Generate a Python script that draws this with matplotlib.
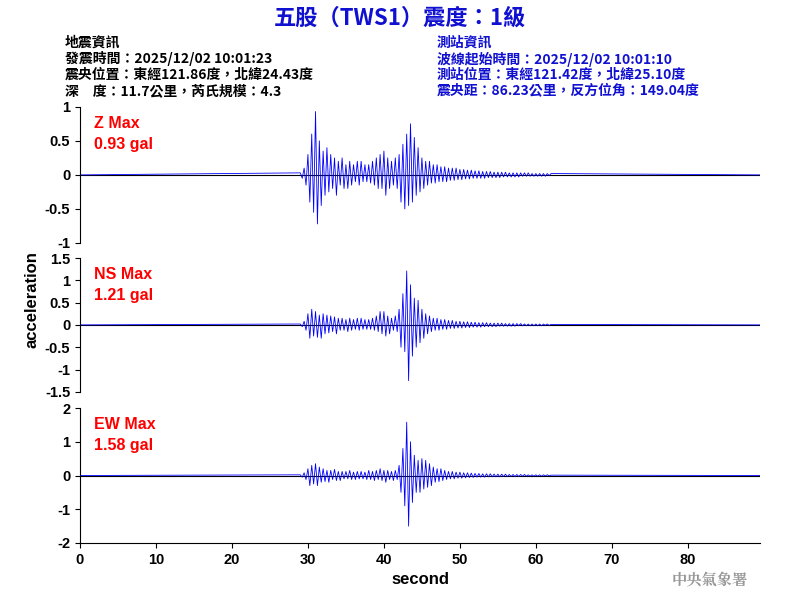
import numpy as np
import matplotlib
matplotlib.use("Agg")
import matplotlib.pyplot as plt

plt.rcParams['font.family'] = ['Noto Sans CJK TC', 'DejaVu Sans']

t_start, t_step = 29.0, 0.25
z_vals = [0.03,-0.05,0.1,-0.15, 0.3,-0.4,0.6,-0.55, 0.93,-0.72,0.5,-0.45,
          0.35,-0.3,0.4,-0.25, 0.3,-0.2,0.25,-0.3, 0.2,-0.15,0.25,-0.2,
          0.15,-0.2,0.2,-0.15, 0.15,-0.1,0.2,-0.15, 0.2,-0.1,0.15,-0.1,
          0.15,-0.12,0.2,-0.15, 0.25,-0.2,0.3,-0.2, 0.35,-0.3,0.25,-0.2,
          0.2,-0.15,0.25,-0.2, 0.3,-0.4,0.45,-0.5, 0.6,-0.45,0.75,-0.4,
          0.55,-0.3,0.4,-0.25, 0.25,-0.2,0.2,-0.15, 0.2,-0.12,0.15,-0.12,
          0.15,-0.1,0.12,-0.1, 0.12,-0.1,0.1,-0.08, 0.1,-0.08,0.1,-0.07,
          0.08,-0.07,0.08,-0.06, 0.07,-0.06,0.07,-0.05,
          0.06,-0.05,0.06,-0.05, 0.05,-0.05,0.05,-0.04, 0.05,-0.04,0.04,-0.04,
          0.04,-0.04,0.04,-0.03, 0.04,-0.03,0.03,-0.03, 0.03,-0.03,0.03,-0.03,
          0.03,-0.02,0.03,-0.02, 0.03,-0.02,0.02,-0.02, 0.02,-0.02,0.02,-0.02,
          0.02,-0.02,0.02,-0.01, 0.02]
ns_vals = [0.02,-0.04,0.08,-0.12, 0.25,-0.3,0.35,-0.25, 0.3,-0.28,0.22,-0.3,
           0.25,-0.2,0.22,-0.18, 0.2,-0.15,0.18,-0.2, 0.15,-0.12,0.15,-0.12,
           0.12,-0.15,0.15,-0.12, 0.12,-0.1,0.15,-0.12, 0.15,-0.1,0.12,-0.1,
           0.12,-0.1,0.15,-0.12, 0.2,-0.15,0.3,-0.2, 0.3,-0.25,0.2,-0.2,
           0.15,-0.12,0.2,-0.15, 0.35,-0.5,0.7,-0.6, 1.21,-1.25,0.9,-0.7,
           0.6,-0.5,0.55,-0.4, 0.35,-0.3,0.25,-0.2, 0.2,-0.15,0.15,-0.12,
           0.15,-0.12,0.12,-0.1, 0.12,-0.1,0.1,-0.08, 0.1,-0.08,0.08,-0.07,
           0.08,-0.07,0.07,-0.06, 0.07,-0.06,0.06,-0.05,
           0.06,-0.05,0.05,-0.05, 0.05,-0.04,0.05,-0.04, 0.04,-0.04,0.04,-0.04,
           0.04,-0.03,0.04,-0.03, 0.03,-0.03,0.03,-0.03, 0.03,-0.03,0.03,-0.02,
           0.03,-0.02,0.02,-0.02, 0.02,-0.02,0.02,-0.02, 0.02,-0.02,0.02,-0.02,
           0.02,-0.01,0.02,-0.01, 0.01]
ew_vals = [0.02,-0.05,0.08,-0.12, 0.2,-0.3,0.3,-0.25, 0.35,-0.3,0.25,-0.2,
           0.2,-0.18,0.15,-0.2, 0.15,-0.12,0.18,-0.15, 0.12,-0.15,0.12,-0.1,
           0.12,-0.1,0.15,-0.12, 0.1,-0.12,0.12,-0.1, 0.12,-0.1,0.1,-0.12,
           0.15,-0.12,0.12,-0.15, 0.15,-0.12,0.2,-0.15, 0.15,-0.2,0.15,-0.12,
           0.12,-0.15,0.15,-0.12, 0.3,-0.5,0.8,-0.9, 1.58,-1.5,1.0,-0.8,
           0.6,-0.5,0.45,-0.5, 0.5,-0.4,0.45,-0.35, 0.35,-0.3,0.25,-0.2,
           0.2,-0.18,0.2,-0.15, 0.15,-0.12,0.12,-0.1, 0.12,-0.1,0.1,-0.08,
           0.1,-0.08,0.08,-0.07, 0.08,-0.06,0.07,-0.06,
           0.06,-0.05,0.06,-0.05, 0.05,-0.05,0.05,-0.04, 0.05,-0.04,0.04,-0.04,
           0.04,-0.04,0.04,-0.03, 0.04,-0.03,0.03,-0.03, 0.03,-0.03,0.03,-0.03,
           0.03,-0.02,0.03,-0.02, 0.02,-0.02,0.02,-0.02, 0.02,-0.02,0.02,-0.02,
           0.02,-0.01,0.02,-0.01, 0.01]

channels = ["Z", "NS", "EW"]
maxima = ["0.93 gal", "1.21 gal", "1.58 gal"]
ylims = [1, 1.5, 2]
yticks = [[-1, -0.5, 0, 0.5, 1], [-1.5, -1, -0.5, 0, 0.5, 1, 1.5], [-2, -1, 0, 1, 2]]
ylabels_txt = [["-1", "-0.5", "0", "0.5", "1"], ["-1.5", "-1", "-0.5", "0", "0.5", "1", "1.5"],
               ["-2", "-1", "0", "1", "2"]]
xticks = [0, 10, 20, 30, 40, 50, 60, 70, 80]
t_end = 89.5
lat = ['Liberation Sans', 'DejaVu Sans']

fig = plt.figure(figsize=(8, 6), dpi=100)
boxes = [(0.1, 0.595, 0.85, 0.227), (0.1, 0.347, 0.85, 0.223), (0.1, 0.095, 0.85, 0.225)]
for i, vals in enumerate([z_vals, ns_vals, ew_vals]):
    ax = fig.add_axes(boxes[i])
    t = t_start + t_step * np.arange(len(vals))
    tt = np.concatenate([[0], t, [t_end]])
    vv = np.concatenate([[0], vals, [0]])
    ax.axhline(0, color='black', lw=0.8, zorder=1)
    ax.plot(tt, vv, color='blue', lw=0.6, zorder=2)
    ax.set_xlim(0, t_end)
    ax.set_ylim(-ylims[i], ylims[i])
    ax.set_yticks(yticks[i])
    ax.set_yticklabels(ylabels_txt[i], fontsize=10.5, family=lat, fontweight='bold')
    for s in ['top', 'right']:
        ax.spines[s].set_visible(False)
    if i < 2:
        ax.spines['bottom'].set_visible(False)
        ax.set_xticks([])
    else:
        ax.set_xticks(xticks)
        ax.set_xticklabels([str(x) for x in xticks], fontsize=10.5, family=lat, fontweight='bold')
        ax.set_xlabel("second", fontsize=12, fontweight='bold', family=lat)
    ax.text(0.02, 0.93, f"{channels[i]} Max\n{maxima[i]}", transform=ax.transAxes,
            color='red', fontsize=11.5, fontweight='bold', va='top', linespacing=1.5,
            family=lat)

fig.text(0.04, 0.5, "acceleration", rotation=90, va='center', ha='center',
         fontsize=12, fontweight='bold', family=lat)
fig.text(0.5, 0.97, "五股（TWS1）震度：1級", ha='center', va='center', color='#1010d0',
         fontsize=16, fontweight='bold')
left = ["地震資訊", "發震時間：2025/12/02 10:01:23", "震央位置：東經121.86度，北緯24.43度",
        "深　度：11.7公里，芮氏規模：4.3"]
right = ["測站資訊", "波線起始時間：2025/12/02 10:01:10", "測站位置：東經121.42度，北緯25.10度",
         "震央距：86.23公里，反方位角：149.04度"]
for k in range(4):
    y = 1 - (43 + 16 * k) / 600
    fig.text(65 / 800, y, left[k], fontsize=10, fontweight='bold', color='black', va='center')
    fig.text(437 / 800, y, right[k], fontsize=10, fontweight='bold', color='#1010d0', va='center')
fig.text(0.935, 1 - 580 / 600, "中央氣象署", ha='right', va='center', color='#999999',
         fontsize=11, fontweight='bold', family=['Noto Serif CJK TC', 'Noto Sans CJK TC'])
fig.savefig("out.png", dpi=100)
